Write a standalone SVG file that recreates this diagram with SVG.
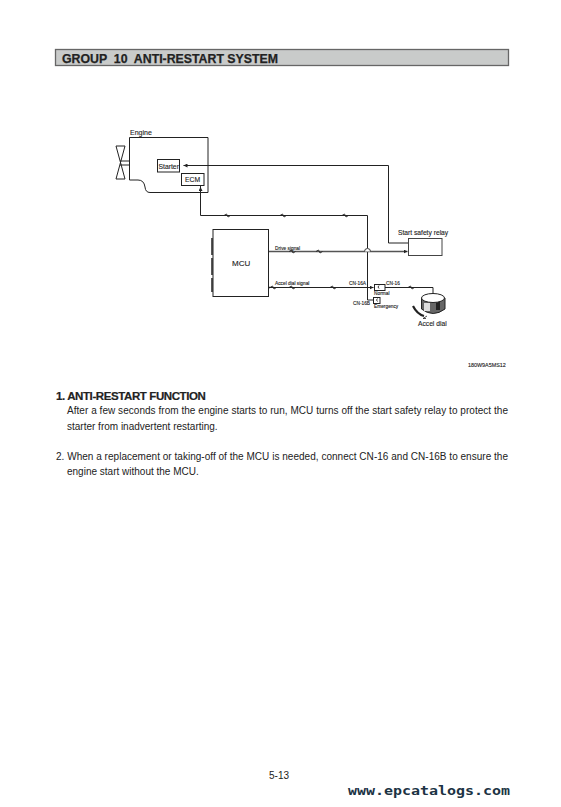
<svg xmlns="http://www.w3.org/2000/svg" width="561" height="807" viewBox="0 0 561 807">
<defs><marker id="arr" markerWidth="5" markerHeight="4" refX="4" refY="2" orient="auto" markerUnits="userSpaceOnUse"><path d="M0 0L4 2L0 4Z" fill="#222"/></marker></defs>
<style>
text{font-family:"Liberation Sans",Arial,sans-serif;fill:#222}
.w{fill:none;stroke:#222;stroke-width:1}
.b{fill:#fff;stroke:#222;stroke-width:1}
.body{font-size:10px}
.lab{font-size:4.800px;stroke:#222;stroke-width:.12}
.n{stroke:#222;stroke-width:.12}
.tick{fill:none;stroke:#222;stroke-width:.9}
</style>
<rect width="561" height="807" fill="#fff"/>
<g id="title"><rect x="55.500" y="49.500" width="453" height="16" fill="#c9cbca" stroke="#666" stroke-width="1.300"/>
<text x="62" y="62.500" font-size="12.500" font-weight="bold" textLength="216" lengthAdjust="spacingAndGlyphs" xml:space="preserve" stroke="#222" stroke-width=".25">GROUP  10  ANTI-RESTART SYSTEM</text></g>
<g id="connectors">
<path class="w" d="M184 165.500H388.500V243H408"/>
<path d="M187 165.500H183.500" class="w" marker-end="url(#arr)"/>
<path class="w" d="M200.500 186V215.500H367.500V248M367.500 251V300H373"/>
<path d="M200.500 191V187" class="w" marker-end="url(#arr)"/>
<path d="M269 251.500H407.500" fill="none" stroke="#555" stroke-width="1.400" marker-end="url(#arr)"/>
<path class="w" d="M269 287.500H373.500" marker-end="url(#arr)"/>
<path class="w" d="M385 287.500H433V296"/>
<path d="M271 287.500H276" class="w" marker-start="url(#arr)" stroke-opacity="0"/>
<path class="tick" d="M224 215.500l2.500-1.500 1.500 3 2.500-1.500M280 215.500l2.500-1.500 1.500 3 2.500-1.500M342 215.500l2.500-1.500 1.500 3 2.500-1.500M289 251.500l2.500-1.500 1.500 3 2.500-1.500M316 251.500l2.500-1.500 1.500 3 2.500-1.500M270 287.500l2.500-1.500 1.500 3 2.500-1.500M289 287.500l2.500-1.500 1.500 3 2.500-1.500M330 287.500l2.500-1.500 1.500 3 2.500-1.500M408 287.500l2.500-1.500 1.500 3 2.500-1.500"/>
<path d="M364.500 251.500a3 3 0 0 1 6 0" fill="#fff" stroke="#222" stroke-width=".9"/>
</g>
<g id="engine"><path class="w" d="M129.500 137.500H208V192.500H150Q145.500 192.500 145 187Q144 180 138 180H129.500Z"/>
<path class="w" d="M129 161H120M129 165H120"/>
<path class="w" d="M116 146H125L116 179H125Z"/>
<text class="n" x="130" y="135" font-size="7">Engine</text></g>
<g id="starter"><rect class="b" x="157.500" y="159.500" width="22" height="12.500"/><text class="n" x="158.500" y="168.500" font-size="6.800">Starter</text></g>
<g id="ecm"><rect class="b" x="181.500" y="173.500" width="22.500" height="12"/><text class="n" x="185" y="182" font-size="6.800">ECM</text></g>
<g id="mcu"><rect class="b" x="213" y="229.500" width="55.500" height="67"/>
<path d="M212 238V255M212 258V275M212 278V292" stroke="#222" stroke-width="1.500" fill="none"/>
<text x="232" y="266" font-size="8" class="n">MCU</text></g>
<g id="relay"><rect x="408.500" y="238.500" width="33.500" height="17" fill="#fff" stroke="#444"/><text class="n" x="398" y="235" font-size="6.700">Start safety relay</text></g>
<g id="labels"><text class="lab" x="275" y="249.500">Drive signal</text><text class="lab" x="275" y="285">Accel dial signal</text>
<text class="lab" x="349" y="285">CN-16A</text><text class="lab" x="386" y="285">CN-16</text><text class="lab" x="353" y="304.500">CN-16B</text>
<text class="lab" x="374" y="294.500">Normal</text><text class="lab" x="374" y="308">Emergency</text></g>
<g id="switch"><rect class="b" x="374.500" y="284.500" width="10.500" height="6"/><rect class="b" x="373.500" y="297.500" width="6.500" height="6"/>
<path d="M379 285.500l-1 1.500 1 1.500M377.500 298.500l-1 1.500 1 1.500" class="tick"/></g>
<g id="dial"><path d="M421.500 298V309Q433 318 445 309V298Z" fill="#666" stroke="#222"/><rect x="424" y="303" width="6" height="8" fill="#ddd"/><rect x="436" y="302" width="4" height="8" fill="#222"/><ellipse cx="433" cy="298" rx="11.500" ry="4.500" class="b"/>
<path d="M413 306Q417 314 424 316" fill="none" stroke="#222" stroke-width="2.200"/>
<path d="M427 316L423 318.500H426" fill="none" stroke="#222" stroke-width=".8"/>
<text class="n" x="418" y="325.500" font-size="6.700">Accel dial</text></g>
<text id="ref" x="468" y="366.500" font-size="5.400" class="n">180W9A5MS12</text>
<g id="body" class="body">
<text x="56" y="400" font-size="11.500" font-weight="bold" letter-spacing="-.4" stroke="#222" stroke-width=".2">1. ANTI-RESTART FUNCTION</text>
<text x="67" y="414" textLength="441" lengthAdjust="spacing">After a few seconds from the engine starts to run, MCU turns off the start safety relay to protect the</text>
<text x="67" y="430">starter from inadvertent restarting.</text>
<text x="56" y="459.500" textLength="452" lengthAdjust="spacing">2. When a replacement or taking-off of the MCU is needed, connect CN-16 and CN-16B to ensure the</text>
<text x="67" y="474.500">engine start without the MCU.</text>
<text x="269" y="779">5-13</text>
</g>
<text id="site" x="348" y="795" font-size="12" font-weight="bold" textLength="162" lengthAdjust="spacingAndGlyphs" style="font-family:'DejaVu Sans Mono',monospace;fill:#1c3344">www.epcatalogs.com</text>
</svg>
